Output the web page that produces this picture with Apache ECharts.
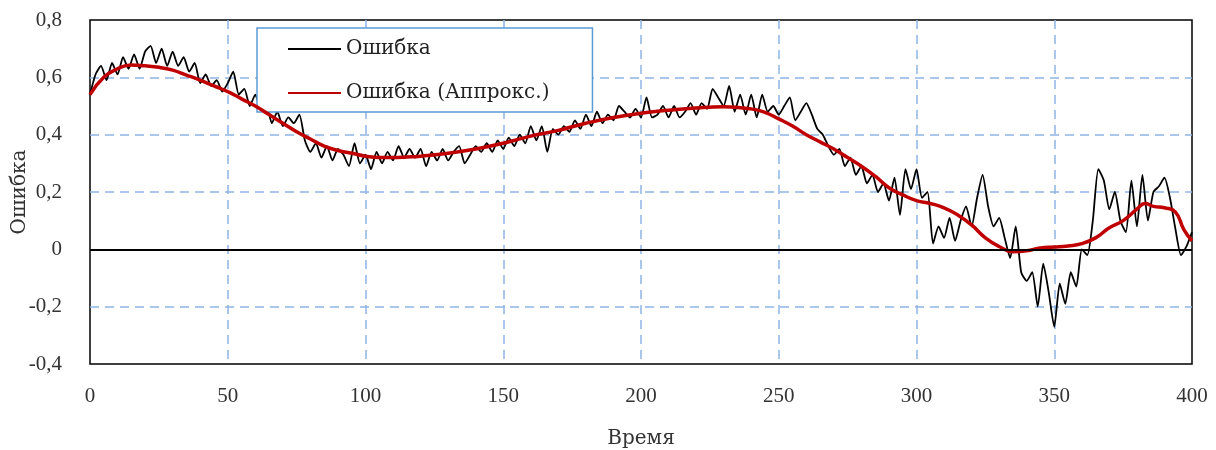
<!DOCTYPE html>
<html>
<head>
<meta charset="utf-8">
<script src="https://cdn.jsdelivr.net/npm/echarts@6/dist/echarts.min.js"></script>
<style>
  html, body { margin: 0; padding: 0; background: #fff; }
  #chart { width: 1216px; height: 450px; }
</style>
</head>
<body>
<div id="chart"></div>
<script>
// X step of the noisy series (time units between samples)
const timeStep = 2;
// "Ошибка" values at t = 0, 2, 4, ..., 400
const errorVals = [
  0.54, 0.61, 0.64, 0.59, 0.65, 0.61, 0.67, 0.63, 0.68, 0.63,
  0.69, 0.71, 0.65, 0.70, 0.64, 0.69, 0.64, 0.67, 0.62, 0.65,
  0.58, 0.61, 0.57, 0.59, 0.55, 0.58, 0.62, 0.54, 0.56, 0.50,
  0.54, 0.49, 0.50, 0.44, 0.48, 0.43, 0.46, 0.44, 0.47, 0.38,
  0.34, 0.37, 0.32, 0.36, 0.31, 0.35, 0.33, 0.29, 0.37, 0.30,
  0.33, 0.28, 0.34, 0.30, 0.34, 0.31, 0.36, 0.32, 0.35, 0.32,
  0.35, 0.29, 0.34, 0.31, 0.35, 0.31, 0.34, 0.36, 0.30, 0.33,
  0.36, 0.34, 0.37, 0.34, 0.38, 0.35, 0.39, 0.36, 0.40, 0.37,
  0.43, 0.38, 0.43, 0.34, 0.42, 0.40, 0.43, 0.41, 0.45, 0.42,
  0.47, 0.43, 0.48, 0.44, 0.47, 0.45, 0.50, 0.48, 0.46, 0.49,
  0.46, 0.53, 0.46, 0.47, 0.50, 0.46, 0.50, 0.46, 0.48, 0.51,
  0.47, 0.51, 0.49, 0.56, 0.53, 0.50, 0.57, 0.48, 0.54, 0.47,
  0.54, 0.46, 0.54, 0.48, 0.50, 0.47, 0.50, 0.53, 0.45, 0.48,
  0.51, 0.47, 0.42, 0.40, 0.36, 0.33, 0.35, 0.29, 0.32, 0.26,
  0.29, 0.23, 0.26, 0.20, 0.23, 0.17, 0.25, 0.12, 0.28, 0.21,
  0.28, 0.18, 0.20, 0.02, 0.08, 0.04, 0.11, 0.03, 0.10, 0.15,
  0.08, 0.18, 0.26, 0.15, 0.08, 0.11, 0.04, -0.03, 0.08, -0.08,
  -0.11, -0.08, -0.20, -0.05, -0.15, -0.27, -0.12, -0.19, -0.08, -0.13,
  0.00, -0.02, 0.10, 0.28, 0.24, 0.14, 0.20, 0.10, 0.06, 0.24,
  0.08, 0.26, 0.10, 0.20, 0.22, 0.25, 0.18, 0.07, -0.02, 0.01,
  0.06
];
// "Ошибка (Аппрокс.)" smooth approximation
const approxT = [0,5,10,15,20,25,30,35,40,45,50,55,60,65,70,75,80,85,90,95,100,105,110,115,120,130,140,150,160,170,180,190,200,210,220,230,240,245,250,255,260,265,270,275,280,285,290,295,300,305,310,315,320,325,330,335,340,345,350,355,360,365,370,375,380,383,386,390,394,397,400];
const approxV = [0.54,0.60,0.63,0.643,0.64,0.635,0.625,0.608,0.59,0.57,0.55,0.525,0.50,0.47,0.44,0.41,0.385,0.36,0.345,0.335,0.325,0.32,0.32,0.322,0.325,0.335,0.35,0.37,0.395,0.415,0.44,0.46,0.475,0.485,0.493,0.497,0.49,0.478,0.455,0.43,0.40,0.375,0.35,0.32,0.29,0.255,0.215,0.19,0.17,0.16,0.145,0.12,0.085,0.04,0.01,-0.008,-0.005,0.005,0.008,0.012,0.02,0.04,0.075,0.10,0.14,0.16,0.15,0.145,0.13,0.07,0.03];

const seriesNames = ['Ошибка', 'Ошибка (Аппрокс.)'];
const xAxisName = 'Время';
const yAxisName = 'Ошибка';

const errorData = errorVals.map((v, i) => [i * timeStep, v]);
const approxData = approxT.map((t, i) => [t, approxV[i]]);

const FONT = 'DejaVu Serif';
const TICK_FONT = 'Liberation Serif';
const fmt = v => (Math.abs(v) < 1e-9 ? '0' : v.toFixed(1).replace('.', ','));
const gridLine = { show: true, showMinLine: false, showMaxLine: false,
  lineStyle: { color: '#8eb4e3', width: 1.5, type: [9, 6] } };

const chart = echarts.init(document.getElementById('chart'), null, { renderer: 'canvas' });
chart.setOption({
  animation: false,
  backgroundColor: '#fff',
  textStyle: { fontFamily: FONT, color: '#222' },
  grid: {
    left: 90, right: 24, top: 20, bottom: 86,
    outerBoundsMode: 'none',
    containLabel: false,
    show: true, borderColor: '#000', borderWidth: 1.5, backgroundColor: '#fff'
  },
  legend: {
    left: 257, top: 28,
    orient: 'vertical',
    padding: [11, 43, 9, 30],
    itemGap: 24,
    itemWidth: 53,
    itemHeight: 14,
    backgroundColor: '#fff',
    borderColor: '#5b9bd5',
    borderWidth: 1.5,
    borderRadius: 0,
    itemStyle: { opacity: 0, borderWidth: 0 },
    textStyle: { fontFamily: FONT, fontSize: 20, color: '#222' },
    data: seriesNames
  },
  xAxis: {
    type: 'value', min: 0, max: 400, interval: 50,
    name: xAxisName, nameLocation: 'middle', nameGap: 65,
    nameMoveOverlap: false,
    nameTextStyle: { fontFamily: FONT, fontSize: 20, color: '#333' },
    axisLine: { show: false, onZero: false },
    axisTick: { show: false },
    axisLabel: { fontFamily: TICK_FONT, fontSize: 21, color: '#333', margin: 22 },
    splitLine: gridLine
  },
  yAxis: {
    type: 'value', min: -0.4, max: 0.8, interval: 0.2,
    name: yAxisName, nameLocation: 'middle', nameGap: 60, nameRotate: 90,
    nameMoveOverlap: false,
    nameTextStyle: { fontFamily: FONT, fontSize: 20, color: '#333' },
    axisLine: { show: false },
    axisTick: { show: false },
    axisLabel: { fontFamily: TICK_FONT, fontSize: 21, color: '#333', margin: 28, formatter: fmt },
    splitLine: gridLine
  },
  series: [
    {
      name: seriesNames[0], type: 'line', data: errorData,
      symbol: 'none', smooth: 0.2,
      lineStyle: { color: '#000', width: 1.8 },
      itemStyle: { color: '#000' },
      z: 3,
      markLine: {
        silent: true, symbol: ['none', 'none'], label: { show: false },
        lineStyle: { color: '#000', width: 1.8, type: 'solid' },
        data: [{ yAxis: 0 }]
      }
    },
    {
      name: seriesNames[1], type: 'line', data: approxData,
      symbol: 'none', smooth: true,
      lineStyle: { color: '#c00000', width: 3.5 },
      itemStyle: { color: '#c00000' },
      z: 4
    }
  ]
});
</script>
</body>
</html>
